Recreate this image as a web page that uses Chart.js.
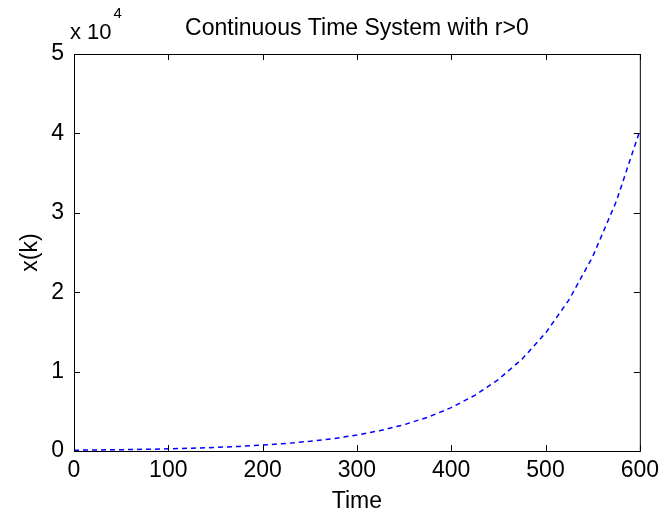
<!DOCTYPE html>
<html>
<head>
<meta charset="utf-8">
<script src="https://cdn.jsdelivr.net/npm/chart.js@4"></script>
<style>
  html, body { margin: 0; padding: 0; background: #fff; }
  #wrap { width: 665px; height: 518px; }
</style>
</head>
<body>
<div id="wrap"><canvas id="myChart"></canvas></div>
<script>
// values (x(k) in raw units, axis shows x 10^4)
const timeVals = [0, 25, 50, 75, 100, 125, 150, 175, 200, 225, 250, 275, 300,
	325, 350, 375, 400, 425, 450, 475, 500, 525, 550, 575, 600];
const xkVals = [100, 130, 165, 210, 270, 350, 450, 575, 740, 950, 1220, 1560, 2010,
	2580, 3310, 4250, 5460, 7010, 9000, 11560, 14840, 19060, 24470, 31420, 40340];
const titleText = 'Continuous Time System with r>0';
const xLabel = 'Time';
const yLabel = 'x(k)';
const yScaleText = 'x 10';
const yScaleExp = '4';

const fontFam = '"Liberation Sans", Arial, sans-serif';

// matlab style frame: box on all 4 sides with ticks pointing inwards
const frameTicks = {
	id: 'frameTicks',
	afterDraw(chart) {
		const { ctx, chartArea: a, scales } = chart;
		const x = scales.x;
		const y = scales.y;
		ctx.save();
		ctx.strokeStyle = '#000';
		ctx.lineWidth = 1;
		ctx.strokeRect(a.left + 0.5, a.top + 0.5, a.right - a.left, a.bottom - a.top);
		ctx.beginPath();
		x.ticks.forEach((t, i) => {
			const px = Math.round(x.getPixelForTick(i)) + 0.5;
			ctx.moveTo(px, a.bottom);
			ctx.lineTo(px, a.bottom - 6);
			ctx.moveTo(px, a.top);
			ctx.lineTo(px, a.top + 6);
		});
		y.ticks.forEach((t, i) => {
			const py = Math.round(y.getPixelForTick(i)) + 0.5;
			ctx.moveTo(a.left, py);
			ctx.lineTo(a.left + 6, py);
			ctx.moveTo(a.right, py);
			ctx.lineTo(a.right - 6, py);
		});
		ctx.stroke();

		// title and the exponent note
		ctx.fillStyle = '#000';
		ctx.textBaseline = 'middle';
		ctx.textAlign = 'center';
		ctx.font = '23px ' + fontFam;
		ctx.fillText(titleText, (a.left + a.right) / 2, 29);
		ctx.textAlign = 'left';
		ctx.font = '22px ' + fontFam;
		ctx.fillText(yScaleText, 70, 33);
		const w = ctx.measureText(yScaleText).width;
		ctx.font = '15px ' + fontFam;
		ctx.fillText(yScaleExp, 70 + w + 2, 14);
		ctx.restore();
	},
};

const ctx1 = document.getElementById('myChart').getContext('2d');

const chart1 = new Chart(ctx1, {
	type: 'line',
	data: {
		labels: timeVals,
		datasets: [
			{
				data: timeVals.map((t, i) => ({ x: t, y: xkVals[i] })),
				borderColor: '#0000ff',
				borderWidth: 1.5,
				borderDash: [5, 4],
				pointRadius: 0,
				fill: false,
				tension: 0,
			},
		],
	},
	options: {
		responsive: true,
		maintainAspectRatio: false,
		animation: false,
		layout: {
			padding: { top: 54, right: 23, bottom: 0, left: 0 },
		},
		plugins: {
			legend: { display: false },
			tooltip: { enabled: false },
		},
		scales: {
			x: {
				type: 'linear',
				min: 0,
				max: 600,
				grid: { display: false, drawTicks: false },
				border: { display: false },
				ticks: {
					stepSize: 100,
					padding: 6,
					color: '#000',
					maxRotation: 0,
					font: { family: fontFam, size: 23 },
				},
				title: {
					display: true,
					text: xLabel,
					color: '#000',
					padding: { top: 0, bottom: 3 },
					font: { family: fontFam, size: 23 },
				},
				afterFit(scale) {
					scale.height = 67;
				},
			},
			y: {
				min: 0,
				max: 50000,
				grid: { display: false, drawTicks: false },
				border: { display: false },
				ticks: {
					stepSize: 10000,
					padding: 10,
					color: '#000',
					font: { family: fontFam, size: 23 },
					callback: (v) => v / 10000,
				},
				title: {
					display: true,
					text: yLabel,
					color: '#000',
					padding: { top: 17, bottom: 0 },
					font: { family: fontFam, size: 23 },
				},
				afterFit(scale) {
					scale.width = 74;
				},
			},
		},
	},
	plugins: [frameTicks],
});
</script>
</body>
</html>
